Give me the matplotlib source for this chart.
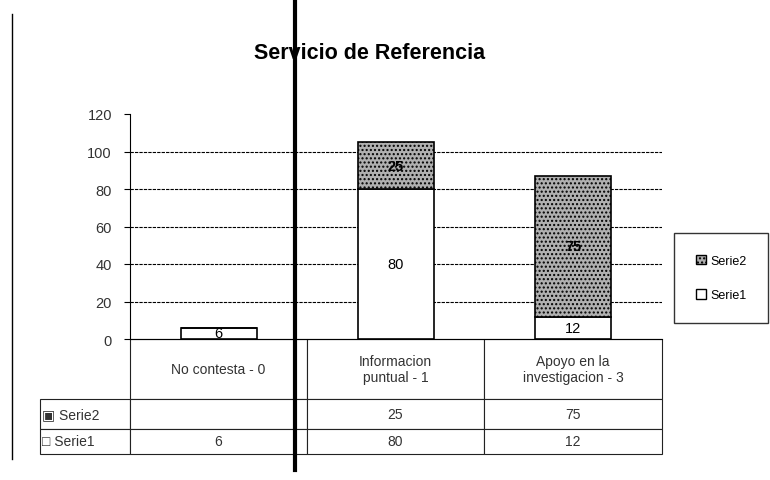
import numpy as np
import matplotlib
matplotlib.use("Agg")
import matplotlib.pyplot as plt
from matplotlib.lines import Line2D
from matplotlib.patches import Patch

# Données du graphique
categorias = ["No contesta - 0", "Informacion\npuntual - 1", "Apoyo en la\ninvestigacion - 3"]
serie1 = [6, 80, 12]
serie2 = [0, 25, 75]
etiquetas_y = [0, 20, 40, 60, 80, 100, 120]
titulo = "Servicio de Referencia"

plt.rcParams['font.family'] = ['Liberation Sans', 'DejaVu Sans']

fig = plt.figure(figsize=(7.7, 4.81), dpi=100)
ax = fig.add_axes([130 / 770, 1 - 340 / 481, 532 / 770, 225 / 481])

x = np.arange(len(categorias))
b1 = ax.bar(x, serie1, width=0.43, color="white", edgecolor="black", linewidth=1.2, zorder=3)
b2 = ax.bar(x, serie2, width=0.43, bottom=serie1, color="#b0b0b0", edgecolor="black",
            hatch="....", linewidth=1.2, zorder=3)
ax.bar_label(b1, labels=[str(v) if v else "" for v in serie1], label_type="center", fontsize=10.5)
ax.bar_label(b2, labels=[str(v) if v else "" for v in serie2], label_type="center", fontsize=10.5,
             fontweight="bold")

ax.set_xlim(-0.5, len(categorias) - 0.5)
ax.set_ylim(0, 120)
ax.set_yticks(etiquetas_y)
ax.set_yticklabels([str(v) for v in etiquetas_y], fontsize=10.5, color="#333333")
ax.set_xticks([])
for v in etiquetas_y[1:-1]:
    ax.axhline(v, color="black", linestyle=(0, (3, 1)), linewidth=0.8, zorder=1)
ax.spines["top"].set_visible(False)
ax.spines["right"].set_visible(False)
ax.spines["left"].set_linestyle((0, (2, 1)))
ax.tick_params(axis="y", direction="out", length=4, pad=9)

ax.set_title(titulo, fontsize=15.5, fontweight="bold", pad=40, x=0.45)

# Tabla de datos
filas = [[""] + categorias,
         ["▣ Serie2"] + [str(v) if v else "" for v in serie2],
         ["□ Serie1"] + [str(v) for v in serie1]]
tabla = ax.table(cellText=filas, cellLoc="center",
                 bbox=[-90 / 532, -115 / 225, 622 / 532, 115 / 225])
tabla.auto_set_font_size(False)
tabla.set_fontsize(10)
anchos = [90, 177, 177, 178]
altos = [60, 30, 25]
for (r, c), celda in tabla.get_celld().items():
    celda.set_width(anchos[c])
    celda.set_height(altos[r])
    celda.set_linewidth(0.8)
    celda.set_edgecolor("#222222")
    celda.get_text().set_color("#333333")
    if c == 0:
        celda.get_text().set_horizontalalignment("left")
        celda.PAD = 0.02
    if r == 0 and c == 0:
        celda.visible_edges = ""

# Leyenda
manejadores = [Patch(facecolor="#b0b0b0", edgecolor="black", hatch="...."),
               Patch(facecolor="white", edgecolor="black")]
fig.legend(manejadores, ["Serie2", "Serie1"], loc="upper left",
           bbox_to_anchor=(668 / 770, 1 - 228 / 481), fontsize=9, frameon=True,
           fancybox=False, edgecolor="black", labelspacing=1.8, handlelength=0.8,
           handleheight=0.8, borderpad=1.7, handletextpad=0.4)

# Lineas del escaneo
fig.add_artist(Line2D([295 / 770, 295 / 770], [0.02, 1.0], color="black", linewidth=3))
fig.add_artist(Line2D([12 / 770, 12 / 770], [1 - 460 / 481, 1 - 15 / 481], color="black", linewidth=1))

fig.savefig("out.png", dpi=100)
